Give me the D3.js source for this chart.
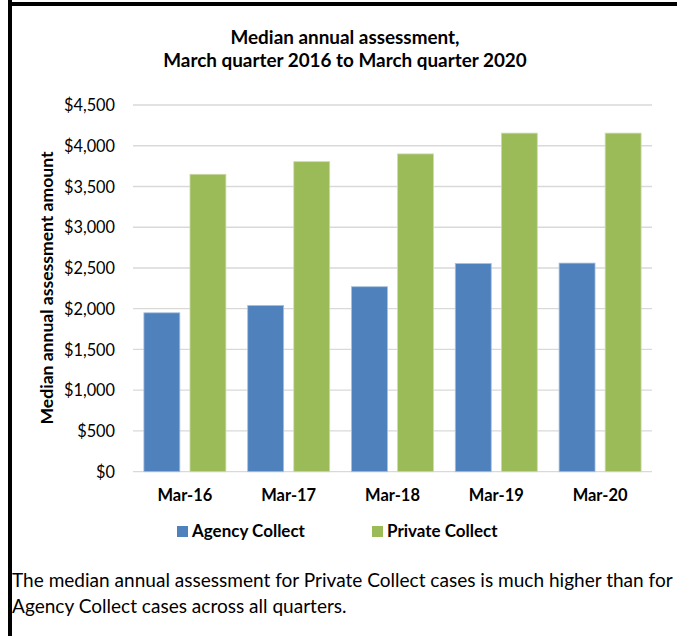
<!DOCTYPE html>
<html>
<head>
<meta charset="utf-8">
<script src="https://cdn.jsdelivr.net/npm/d3@7"></script>
<style>
  html, body { margin: 0; padding: 0; background: #fff; }
  svg { display: block; }
  text { font-family: Lato, "Open Sans", sans-serif; fill: #000; }
</style>
</head>
<body>
<svg id="chart" width="677" height="636"></svg>
<script>
const categories = ["Mar-16", "Mar-17", "Mar-18", "Mar-19", "Mar-20"];
const seriesNames = ["Agency Collect", "Private Collect"];
const agencyValues = [1950, 2040, 2270, 2555, 2560];
const privateValues = [3650, 3805, 3900, 4155, 4155];
const yTicks = [0, 500, 1000, 1500, 2000, 2500, 3000, 3500, 4000, 4500];
const titleLines = ["Median annual assessment,", "March quarter 2016 to March quarter 2020"];
const yAxisTitle = "Median annual assessment amount";
const noteLines = [
  "The median annual assessment for Private Collect cases is much higher than for",
  "Agency Collect cases across all quarters."
];
const colors = ["#4F81BD", "#9BBB59"];

const svg = d3.select("#chart");

// fit a text's font-size so that it spans a target width
function fitSize(str, weight, target) {
  const t = svg.append("text").attr("font-size", 100).attr("font-weight", weight).text(str);
  const w = t.node().getComputedTextLength();
  t.remove();
  return 100 * target / w;
}

// border
svg.append("rect").attr("x", 8).attr("y", 0).attr("width", 4).attr("height", 636).attr("fill", "#000");
svg.append("rect").attr("x", 8).attr("y", 2).attr("width", 669).attr("height", 4).attr("fill", "#000");

const margin = { left: 133, right: 652, top: 105, bottom: 471.7 };
const x0 = d3.scaleBand().domain(categories).range([margin.left, margin.right]).paddingInner(0.21).paddingOuter(0.105);
const x1 = d3.scaleBand().domain(seriesNames).range([0, x0.bandwidth()]).paddingInner(0.22);
const y = d3.scaleLinear().domain([0, 4500]).range([margin.bottom, margin.top]);

// gridlines
svg.append("g").selectAll("line").data(yTicks).join("line")
  .attr("x1", margin.left).attr("x2", margin.right)
  .attr("y1", d => y(d)).attr("y2", d => y(d))
  .attr("stroke", "#d9d9d9").attr("stroke-width", 1.3);

// y tick labels
const tickSize = fitSize("$4,500", 400, 51);
const yAxis = d3.axisLeft(y).tickValues(yTicks).tickSize(0).tickPadding(0)
  .tickFormat(d => "$" + d3.format(",")(d));
const gy = svg.append("g").attr("transform", "translate(115,0)").call(yAxis);
gy.select(".domain").remove();
gy.selectAll("text").attr("font-size", tickSize).attr("font-family", "Lato, sans-serif").attr("fill", "#000").attr("dy", "0.35em");

// bars
const data = categories.map((c, i) => ({ cat: c, vals: [agencyValues[i], privateValues[i]] }));
const groups = svg.append("g").selectAll("g").data(data).join("g")
  .attr("transform", d => `translate(${x0(d.cat)},0)`);
groups.selectAll("rect").data(d => d.vals.map((v, j) => ({ name: seriesNames[j], v, j }))).join("rect")
  .attr("x", d => x1(d.name))
  .attr("width", x1.bandwidth())
  .attr("y", d => y(d.v))
  .attr("height", d => y(0) - y(d.v))
  .attr("fill", d => colors[d.j])
  .attr("stroke", d => d.j === 0 ? "#a7c0de" : "#cddcac")
  .attr("stroke-width", 0.8);

// x labels
const xSize = fitSize("Mar-16", 700, 55);
const xAxis = d3.axisBottom(x0).tickSize(0).tickPadding(0);
const gx = svg.append("g").attr("transform", `translate(0,${margin.bottom})`).call(xAxis);
gx.select(".domain").remove();
gx.selectAll("text").attr("font-size", xSize).attr("font-weight", 700).attr("font-family", "Lato, sans-serif")
  .attr("fill", "#000").attr("y", 29.5).attr("dy", 0);

// title
const titleSize = fitSize(titleLines[1], 700, 364);
svg.append("g").selectAll("text").data(titleLines).join("text")
  .attr("x", 345).attr("y", (d, i) => 44 + i * 23)
  .attr("text-anchor", "middle").attr("font-weight", 700).attr("font-size", titleSize)
  .text(d => d);

// y axis title
const yTitleSize = fitSize(yAxisTitle, 700, 273);
svg.append("text")
  .attr("transform", "translate(53,288) rotate(-90)")
  .attr("text-anchor", "middle").attr("font-weight", 700).attr("font-size", yTitleSize)
  .text(yAxisTitle);

// legend
const legSize = fitSize("Agency Collect", 700, 113);
const legX = [177, 372];
const leg = svg.append("g").selectAll("g").data(seriesNames).join("g")
  .attr("transform", (d, i) => `translate(${legX[i]},526)`);
leg.append("rect").attr("width", 11).attr("height", 11).attr("fill", (d, i) => colors[i]);
leg.append("text").attr("x", 15).attr("y", 11).attr("font-weight", 700).attr("font-size", legSize).text(d => d);

// note
const noteSize = fitSize(noteLines[0], 400, 661);
svg.append("g").selectAll("text").data(noteLines).join("text")
  .attr("x", 12).attr("y", (d, i) => 587 + i * 26)
  .attr("font-size", noteSize).text(d => d);
</script>
</body>
</html>
